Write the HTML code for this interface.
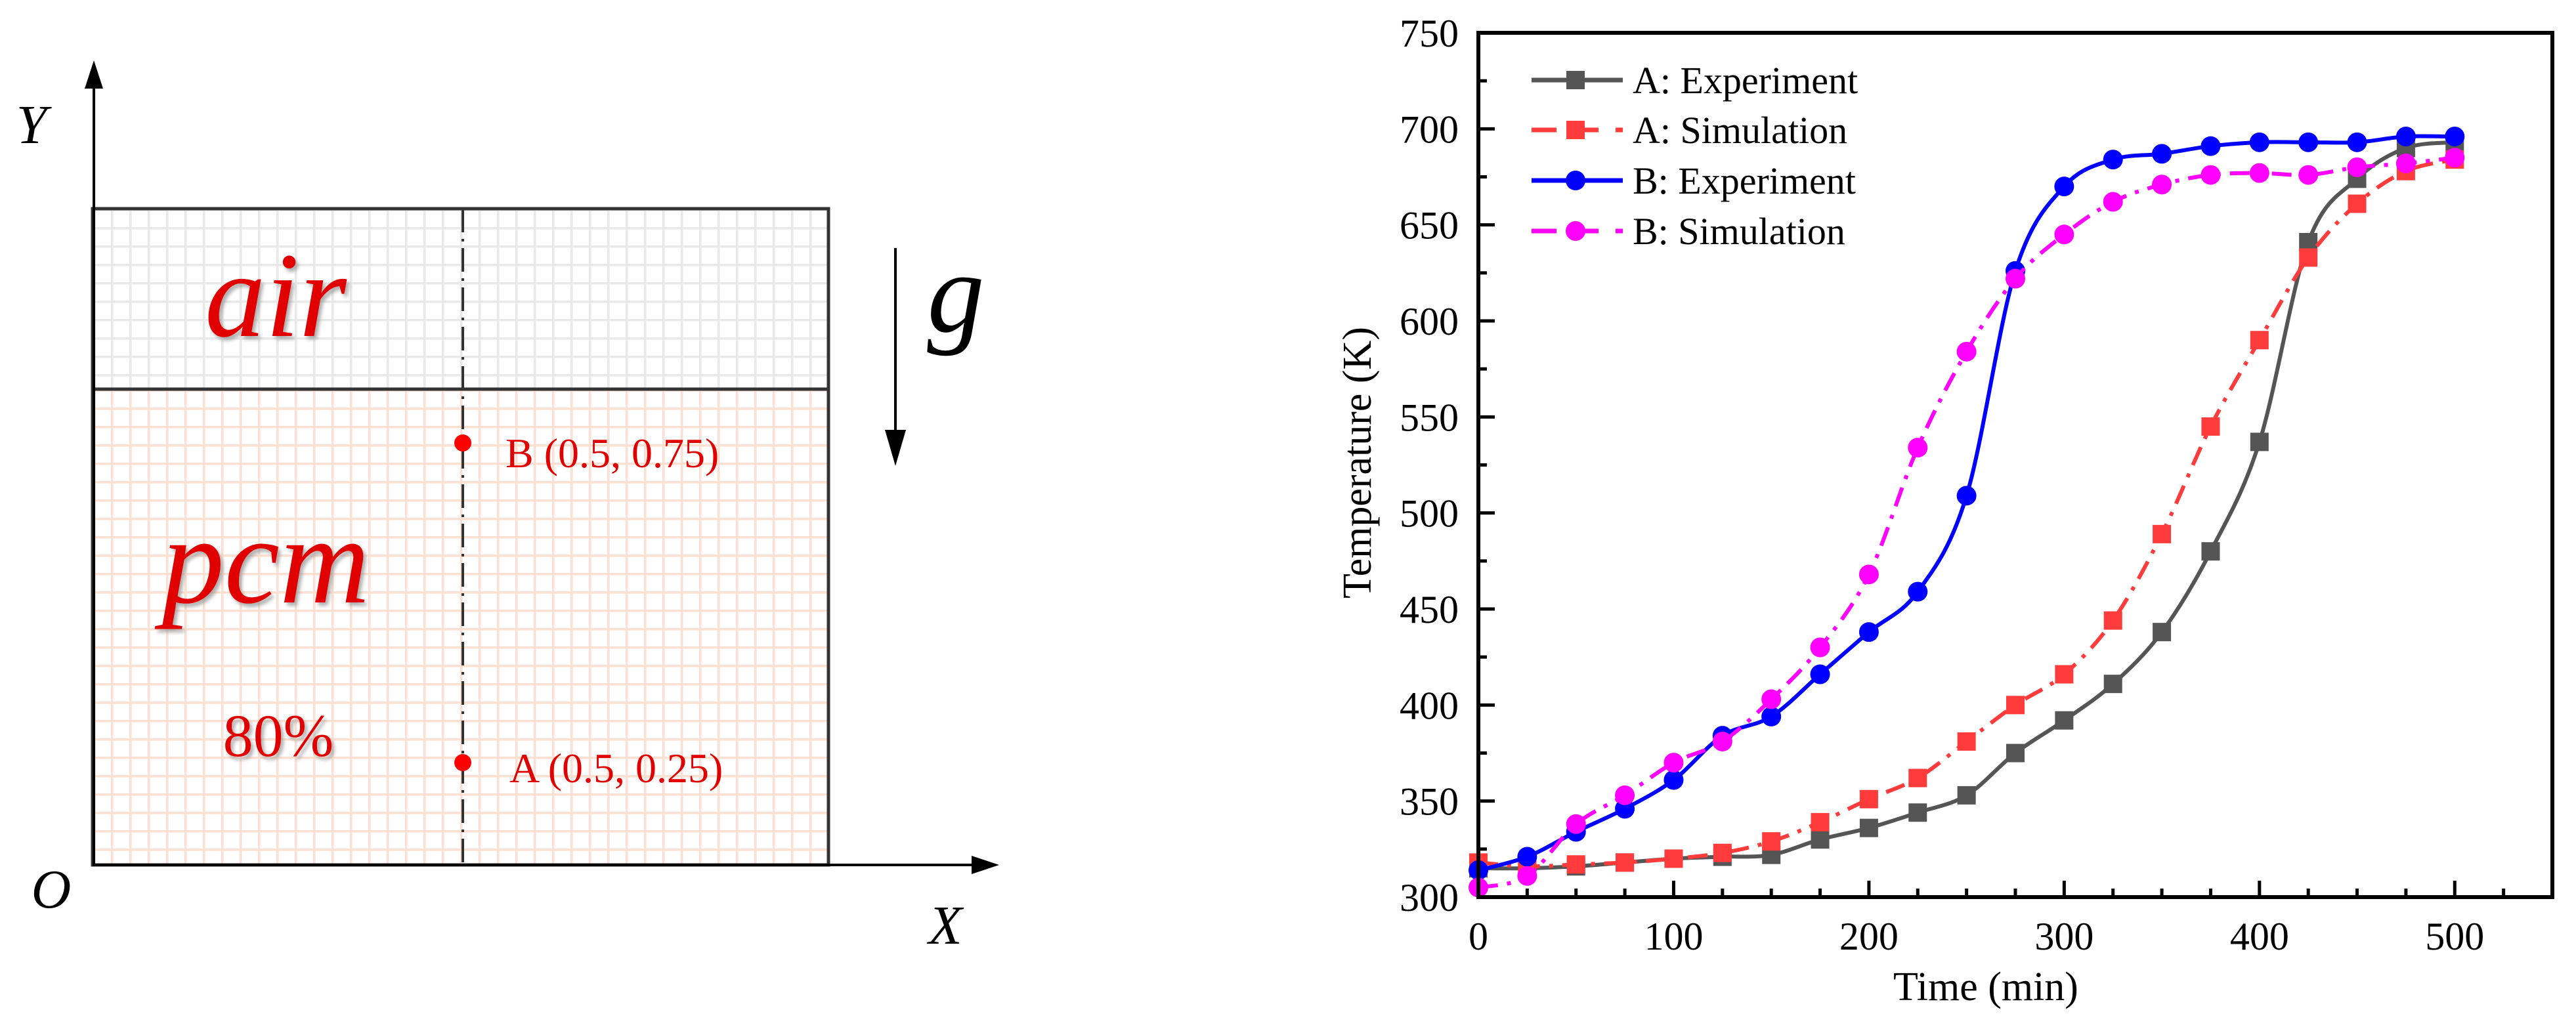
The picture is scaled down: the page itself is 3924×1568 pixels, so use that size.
<!DOCTYPE html>
<html><head><meta charset="utf-8"><style>
html,body{margin:0;padding:0;background:#fff;}
svg{display:block;}
text{font-family:"Liberation Serif",serif;}
</style></head><body>
<svg id="root" width="3924" height="1568" viewBox="0 0 3924 1568" xmlns="http://www.w3.org/2000/svg">
<defs>
<pattern id="gridAir" width="28" height="28" patternUnits="userSpaceOnUse" x="141" y="318">
<rect width="28" height="28" fill="#fff"/>
<path d="M0 0H28M0 0V28" stroke="#e9e9e9" stroke-width="7"/>
</pattern>
<pattern id="gridPcm" width="28" height="28" patternUnits="userSpaceOnUse" x="141" y="593">
<rect width="28" height="28" fill="#fff"/>
<path d="M0 0H28M0 0V28" stroke="#fde0d2" stroke-width="7"/>
</pattern>
<filter id="shadow" x="-20%" y="-20%" width="140%" height="140%"><feDropShadow dx="4" dy="5" stdDeviation="3" flood-color="#999" flood-opacity="0.8"/></filter>
</defs>

<g>
<rect x="141" y="318" width="1121" height="275" fill="url(#gridAir)"/>
<rect x="141" y="593" width="1121" height="725" fill="url(#gridPcm)"/>
<rect x="141" y="318" width="1121" height="1000" fill="none" stroke="#333" stroke-width="5"/>
<line x1="141" y1="593" x2="1262" y2="593" stroke="#333" stroke-width="5"/>
<line x1="705" y1="318" x2="705" y2="1318" stroke="#333" stroke-width="4" stroke-dasharray="36 10 4 10"/>
<line x1="143" y1="1318" x2="143" y2="110" stroke="#000" stroke-width="4"/>
<polygon points="143,92 129,135 157,135" fill="#000"/>
<line x1="141" y1="1318" x2="1500" y2="1318" stroke="#000" stroke-width="4"/>
<polygon points="1522,1318 1480,1304 1480,1332" fill="#000"/>
<text x="48" y="218" font-size="84" font-style="italic" text-anchor="middle">Y</text>
<text x="78" y="1383" font-size="84" font-style="italic" text-anchor="middle">O</text>
<text x="1440" y="1438" font-size="84" font-style="italic" text-anchor="middle">X</text>
<line x1="1364" y1="378" x2="1364" y2="670" stroke="#000" stroke-width="4"/>
<polygon points="1364,710 1348,655 1380,655" fill="#000"/>
<text x="1456" y="505" font-size="175" font-style="italic" text-anchor="middle">g</text>
<text x="420" y="512" font-size="185" font-style="italic" fill="#e00000" text-anchor="middle" filter="url(#shadow)">air</text>
<text x="405" y="918" font-size="190" font-style="italic" fill="#e00000" text-anchor="middle" filter="url(#shadow)">pcm</text>
<text x="424" y="1152" font-size="92" fill="#e00000" text-anchor="middle" filter="url(#shadow)">80%</text>
<circle cx="705" cy="675" r="13" fill="#f00"/>
<circle cx="705" cy="1162" r="13" fill="#f00"/>
<text x="770" y="712" font-size="64" fill="#e00000">B (0.5, 0.75)</text>
<text x="776" y="1192" font-size="64" fill="#e00000">A (0.5, 0.25)</text>
</g>

<g id="chart"></g>
</svg>
<script>
const times = [0,25,50,75,100,125,150,175,200,225,250,275,300,325,350,375,400,425,450,475,500];
const aExperiment = [315,315,316,318,320,321,322,330,336,344,353,375,392,411,438,480,537,641,674,690,693];
const aSimulation = [318,316,317,318,320,323,329,339,351,362,381,400,416,444,489,545,590,633,661,678,684];
const bExperiment = [314,321,334,346,361,384,394,416,438,459,509,626,670,684,687,691,693,693,693,696,696];
const bSimulation = [305,311,338,353,370,381,403,430,468,534,584,622,645,662,671,676,677,676,680,682,685];
const seriesNames = ["A: Experiment","A: Simulation","B: Experiment","B: Simulation"];
const xTicks = [0,100,200,300,400,500];
const yTicks = [300,350,400,450,500,550,600,650,700,750];

const NS = "http://www.w3.org/2000/svg";
const L = 2252, R = 3888, T = 50, B = 1367;
const xMin = 0, xMax = 550, yMin = 300, yMax = 750;
function xs(v){ return L + (v - xMin) / (xMax - xMin) * (R - L); }
function ys(v){ return B - (v - yMin) / (yMax - yMin) * (B - T); }
const chart = document.getElementById('chart');
function mk(tag, attrs, parent){
  const e = document.createElementNS(NS, tag);
  for (const k in attrs) e.setAttribute(k, attrs[k]);
  (parent || chart).appendChild(e);
  return e;
}
// ticks
for (let v = 0; v <= 550; v += 25) {
  const major = v % 100 === 0;
  const t = mk('line', {x1: xs(v), x2: xs(v), y1: B, y2: B - (major ? 25 : 13), stroke: '#000', 'stroke-width': 5});
  
  
}
for (let v = 300; v <= 750; v += 25) {
  const major = v % 50 === 0;
  const t = mk('line', {x1: L, x2: L + (major ? 25 : 13), y1: ys(v), y2: ys(v), stroke: '#000', 'stroke-width': 5});
  
  
}
xTicks.forEach(v => {
  const t = mk('text', {x: xs(v), y: B + 80, 'font-size': 60, 'text-anchor': 'middle'});
  t.textContent = v;
  
  
});
yTicks.forEach(v => {
  const t = mk('text', {x: 2222, y: ys(v) + 21, 'font-size': 60, 'text-anchor': 'end'});
  t.textContent = v;
  
  
});
const xt = mk('text', {x: 3025, y: 1524, 'font-size': 62, 'text-anchor': 'middle'});
xt.textContent = 'Time (min)';


const yt = mk('text', {x: 0, y: 0, 'font-size': 62, 'text-anchor': 'middle', transform: 'translate(2088,705) rotate(-90)'});
yt.textContent = 'Temperature (K)';



function spline(vals){
  const p = vals.map((v,i) => [xs(times[i]), ys(v)]);
  let d = 'M' + p[0][0] + ' ' + p[0][1];
  for (let i = 0; i < p.length - 1; i++) {
    const p0 = p[Math.max(i-1,0)], p1 = p[i], p2 = p[i+1], p3 = p[Math.min(i+2,p.length-1)];
    const c1 = [p1[0] + (p2[0]-p0[0])/6, p1[1] + (p2[1]-p0[1])/6];
    const c2 = [p2[0] - (p3[0]-p1[0])/6, p2[1] - (p3[1]-p1[1])/6];
    d += ' C' + c1[0] + ' ' + c1[1] + ' ' + c2[0] + ' ' + c2[1] + ' ' + p2[0] + ' ' + p2[1];
  }
  return d;
}
const seriesData = [aExperiment, aSimulation, bExperiment, bSimulation];
const colors = ['#555555', '#ff3b3b', '#0000ff', '#ff00ff'];
const dashes = ['', '30 14 6 14', '', '30 14 6 14'];
const shapes = ['square', 'square', 'circle', 'circle'];
const seriesKeys = ['a-experiment', 'a-simulation', 'b-experiment', 'b-simulation'];
function marker(g, shape, x, y, color){
  let m;
  if (shape === 'square') m = mk('rect', {x: x - 14, y: y - 14, width: 28, height: 28, fill: color}, g);
  else m = mk('circle', {cx: x, cy: y, r: 15, fill: color}, g);
  return m;
}
seriesData.forEach((vals, si) => {
  const g = mk('g', {});
  
  
  const path = mk('path', {d: spline(vals), fill: 'none', stroke: colors[si], 'stroke-width': 6, 'stroke-dasharray': dashes[si]}, g);
  
  
  vals.forEach((v, i) => {
    const m = marker(g, shapes[si], xs(times[i]), ys(v), colors[si]);
    
    
  });
  // legend
  const ly = [122, 198, 275, 352][si];
  const lg = mk('g', {});
  
  
  mk('line', {x1: 2333, x2: 2472, y1: ly, y2: ly, stroke: colors[si], 'stroke-width': 7, 'stroke-dasharray': dashes[si] ? '38 26' : ''}, lg);
  marker(lg, shapes[si], 2400, ly, colors[si]);
  const lt = mk('text', {x: 2487, y: ly + 20, 'font-size': 58}, lg);
  lt.textContent = seriesNames[si];
  
  
});
const frame = mk('rect', {x: L, y: T, width: R - L, height: B - T, fill: 'none', stroke: '#000', 'stroke-width': 6});


</script>
</body></html>
